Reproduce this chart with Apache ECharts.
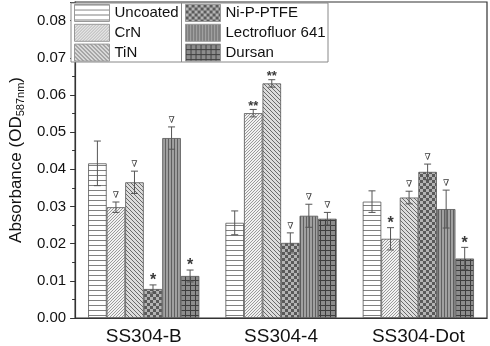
<!DOCTYPE html>
<html><head><meta charset="utf-8">
<script src="https://cdn.jsdelivr.net/npm/echarts@6/dist/echarts.min.js"></script>
<style>html,body{margin:0;padding:0;background:#fff}#c{width:490px;height:346px}</style>
</head><body><div id="c"></div>
<script>
const categories = ['SS304-B', 'SS304-4', 'SS304-Dot'];
const seriesNames = ['Uncoated', 'CrN', 'TiN', 'Ni-P-PTFE', 'Lectrofluor 641', 'Dursan'];
const yTicks = [0, 0.01, 0.02, 0.03, 0.04, 0.05, 0.06, 0.07, 0.08];

const uncoated = [0.0416, 0.0256, 0.0313];
const crn      = [0.0298, 0.0551, 0.0213];
const tin      = [0.0365, 0.0631, 0.0324];
const niPtfe   = [0.0078, 0.0202, 0.0393];
const lectro   = [0.0484, 0.0275, 0.0293];
const dursan   = [0.0113, 0.0267, 0.0160];

const uncoatedErr = [0.0060, 0.0032, 0.0029];
const crnErr      = [0.0014, 0.0010, 0.0030];
const tinErr      = [0.0030, 0.0010, 0.0017];
const niPtfeErr   = [0.0011, 0.0027, 0.0021];
const lectroErr   = [0.0030, 0.0031, 0.0051];
const dursanErr   = [0.0016, 0.0017, 0.0030];

const uncoatedMark = ['', '', ''];
const crnMark      = ['∇', '**', '*'];
const tinMark      = ['∇', '**', '∇'];
const niPtfeMark   = ['*', '∇', '∇'];
const lectroMark   = ['∇', '∇', '∇'];
const dursanMark   = ['*', '∇', '*'];

const values = [uncoated, crn, tin, niPtfe, lectro, dursan];
const errs = [uncoatedErr, crnErr, tinErr, niPtfeErr, lectroErr, dursanErr];
const marks = [uncoatedMark, crnMark, tinMark, niPtfeMark, lectroMark, dursanMark];

function makePattern(w, h, bg, fg, test) {
  const c = document.createElement('canvas');
  c.width = w; c.height = h;
  const ctx = c.getContext('2d');
  ctx.fillStyle = bg; ctx.fillRect(0, 0, w, h);
  ctx.fillStyle = fg;
  for (let x = 0; x < w; x++) for (let y = 0; y < h; y++) if (test(x, y)) ctx.fillRect(x, y, 1, 1);
  return { image: c, repeat: 'repeat' };
}
const patterns = [
  makePattern(8, 5, '#ffffff', '#808080', (x, y) => y === 0),
  makePattern(3, 3, '#f2f2f2', '#9a9a9a', (x, y) => (x + y) % 3 === 0),
  makePattern(4, 4, '#dcdcdc', '#6a6a6a', (x, y) => ((x - y) % 4 + 4) % 4 === 0),
  makePattern(6, 6, '#b4b4b4', '#5a5a5a', (x, y) => ((Math.floor(x / 3) + Math.floor(y / 3)) % 2) === 0),
  makePattern(3, 4, '#a0a0a0', '#606060', (x, y) => x === 0),
  makePattern(5, 5, '#8c8c8c', '#3e3e3e', (x, y) => x === 0 || y === 0)
];

const GAP = 0.19;
const barSeries = seriesNames.map((name, i) => ({
  name: name,
  type: 'bar',
  data: values[i],
  barGap: '0%',
  barCategoryGap: (GAP * 100) + '%',
  itemStyle: { color: patterns[i], borderColor: '#555', borderWidth: 0.8 },
  emphasis: { disabled: true },
  animation: false,
  z: 2
}));

const errData = [];
const errMarks = [];
for (let s = 0; s < values.length; s++) {
  for (let c = 0; c < categories.length; c++) {
    errData.push([c, s, values[s][c], errs[s][c]]);
    errMarks.push(marks[s][c]);
  }
}

const errSeries = {
  type: 'custom',
  data: errData,
  encode: { x: 0, y: 2 },
  animation: false,
  z: 5,
  silent: true,
  renderItem: function (params, api) {
    const c = api.value(0), s = api.value(1), v = api.value(2), e = api.value(3);
    const band = api.size([1, 0])[0];
    const bw = band * (1 - GAP) / seriesNames.length;
    const center = api.coord([c, v]);
    const x = center[0] + (s - (seriesNames.length - 1) / 2) * bw;
    const yTop = api.coord([c, v + e])[1];
    const yBot = api.coord([c, v - e])[1];
    const cap = 3.5;
    const st = { stroke: '#555', lineWidth: 1, fill: null };
    const children = [
      { type: 'line', shape: { x1: x, y1: yTop, x2: x, y2: yBot }, style: st },
      { type: 'line', shape: { x1: x - cap, y1: yTop, x2: x + cap, y2: yTop }, style: st },
      { type: 'line', shape: { x1: x - cap, y1: yBot, x2: x + cap, y2: yBot }, style: st }
    ];
    const m = errMarks[params.dataIndex];
    if (m) {
      const isNabla = m === '∇';
      const isDouble = m === '**';
      children.push({
        type: 'text',
        style: {
          text: m,
          x: x,
          y: isNabla ? yTop - 2 : yTop + (isDouble ? 3 : 4),
          align: 'center',
          verticalAlign: 'bottom',
          fill: '#3a3a3a',
          font: isNabla ? '9px "DejaVu Serif"' : (isDouble ? 'bold 13px "Liberation Sans", Arial, sans-serif' : 'bold 16px "Liberation Sans", Arial, sans-serif')
        }
      });
    }
    return { type: 'group', children: children };
  }
};

const chart = echarts.init(document.getElementById('c'), null, { renderer: 'canvas' });
const fontFam = '"Liberation Sans", Arial, sans-serif';
const legendCommon = {
  orient: 'vertical', top: 4, itemWidth: 35, itemHeight: 17, itemGap: 1.8, padding: 0, icon: 'rect',
  itemStyle: { borderColor: '#999', borderWidth: 1 },
  textStyle: { fontSize: 15, fontFamily: fontFam, color: '#111' }, selectedMode: false
};
chart.setOption({
  animation: false,
  backgroundColor: '#fff',
  grid: { left: 67.5, right: 3, top: 2, bottom: 28, show: true, borderColor: '#333', borderWidth: 1.2, containLabel: false },
  legend: [
    Object.assign({ data: seriesNames.slice(0, 3), left: 74 }, legendCommon),
    Object.assign({ data: seriesNames.slice(3), left: 185 }, legendCommon)
  ],
  graphic: [
    { type: 'rect', z: 3, shape: { x: 71, y: 3, width: 257, height: 59 }, style: { fill: '#fff', stroke: '#888', lineWidth: 1 } },
    { type: 'line', z: 3, shape: { x1: 181.5, y1: 3, x2: 181.5, y2: 62 }, style: { stroke: '#888', lineWidth: 1 } }
  ],
  xAxis: {
    type: 'category',
    data: categories,
    axisLine: { lineStyle: { color: '#333', width: 1.2 } },
    axisTick: { alignWithLabel: true, length: 5, lineStyle: { color: '#333' } },
    axisLabel: { fontSize: 19, fontFamily: fontFam, color: '#111', margin: 9 }
  },
  yAxis: {
    type: 'value',
    min: 0, max: 0.085, interval: 0.01,
    name: 'Absorbance (OD{s|587nm})',
    nameLocation: 'middle',
    nameRotate: 90,
    nameGap: 46,
    nameTextStyle: { fontSize: 17, fontFamily: fontFam, color: '#111',
      rich: { s: { fontSize: 11, fontFamily: fontFam, color: '#111', verticalAlign: 'bottom', padding: [8, 0, 0, 0] } } },
    axisLine: { show: true, lineStyle: { color: '#333', width: 1.2 } },
    axisTick: { show: true, length: 5, lineStyle: { color: '#333' } },
    minorTick: { show: true, splitNumber: 2, length: 3, lineStyle: { color: '#333' } },
    splitLine: { show: false },
    axisLabel: { fontSize: 15, fontFamily: fontFam, color: '#111', margin: 9, showMaxLabel: false,
      formatter: v => (yTicks.some(t => Math.abs(t - v) < 1e-9) ? v.toFixed(2) : '') }
  },
  series: barSeries.concat([errSeries])
});
</script>
</body></html>
